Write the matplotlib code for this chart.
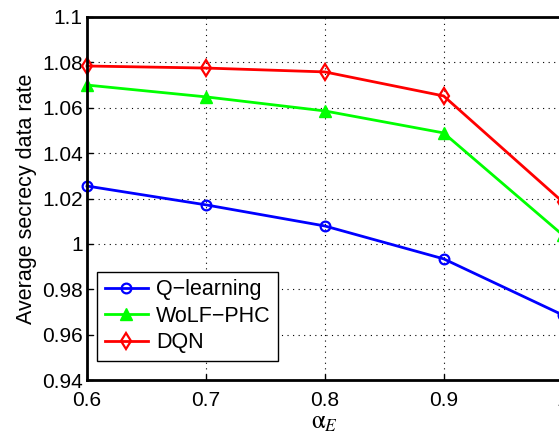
import matplotlib
matplotlib.use("Agg")
import matplotlib.pyplot as plt

alpha_E = [0.6, 0.7, 0.8, 0.9, 1.0]
q_learning = [1.0255, 1.0172, 1.0079, 0.9934, 0.9687]
wolf_phc = [1.0700, 1.0648, 1.0586, 1.0489, 1.0040]
dqn = [1.0784, 1.0775, 1.0758, 1.0652, 1.0186]
xticks = [0.6, 0.7, 0.8, 0.9, 1.0]
yticks = [0.94, 0.96, 0.98, 1.0, 1.02, 1.04, 1.06, 1.08, 1.1]
ytick_labels = ["0.94", "0.96", "0.98", "1", "1.02", "1.04", "1.06", "1.08", "1.1"]
xtick_labels = ["0.6", "0.7", "0.8", "0.9", "1"]

plt.rcParams['font.family'] = ['Liberation Sans', 'DejaVu Sans']
plt.rcParams['mathtext.fontset'] = 'stix'

fig = plt.figure(figsize=(5.59, 4.42), dpi=100)
ax = fig.add_axes([87/559, 62/442, 475.5/559, 363/442])

ax.plot(alpha_E, q_learning, color='#0000ff', lw=2, marker='o', ms=7,
        mfc='none', mec='#0000ff', mew=1.6, label='Q\u2212learning', clip_on=False)
ax.plot(alpha_E, wolf_phc, color='#00ff00', lw=2, marker='^', ms=8,
        mfc='#00ff00', mec='#00ff00', label='WoLF\u2212PHC', clip_on=False)
ax.plot(alpha_E, dqn, color='#ff0000', lw=2, marker='d', ms=8,
        mfc='none', mec='#ff0000', mew=1.6, label='DQN', clip_on=False)

ax.set_xlim(0.6, 1.0)
ax.set_ylim(0.94, 1.1)
ax.set_xticks(xticks)
ax.set_xticklabels(xtick_labels)
ax.set_yticks(yticks)
ax.set_yticklabels(ytick_labels)
ax.tick_params(direction='in', labelsize=15, length=4, width=1, pad=3)
ax.tick_params(axis='x', pad=8)
ax.grid(True, color='black', linestyle=(0, (1, 4)), linewidth=0.8)
for s in ax.spines.values():
    s.set_linewidth(2)

ax.set_ylabel('Average secrecy data rate', fontsize=15.5, labelpad=4)
ax.set_xlabel(r'$\mathrm{\alpha}_{E}$', fontsize=18, labelpad=0)

leg = ax.legend(loc='lower left', bbox_to_anchor=(0.021, 0.053), borderaxespad=0,
                fontsize=15.5, fancybox=False, edgecolor='black', framealpha=1,
                handlelength=2.0, labelspacing=0.25, borderpad=0.35, handletextpad=0.4)
leg.get_frame().set_linewidth(1)

fig.savefig('out.png', dpi=100)
